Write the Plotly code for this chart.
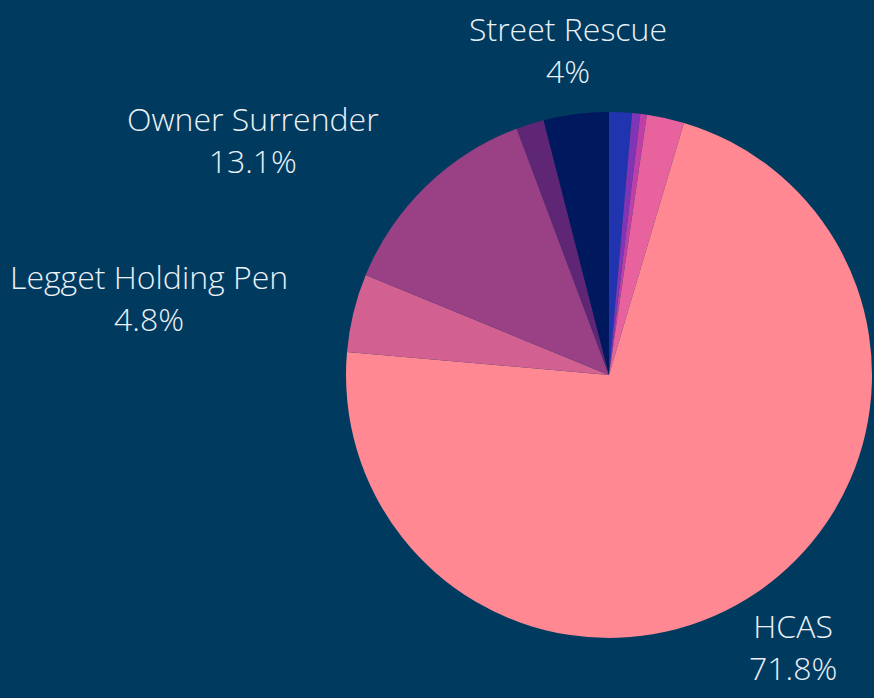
import math
import plotly.graph_objects as go

labels = ["Transfer A", "Transfer B", "Transfer C", "Transfer D", "HCAS",
          "Legget Holding Pen", "Owner Surrender", "Return", "Street Rescue"]
values = [14, 5, 4, 23, 718, 48, 131, 17, 40]
colors = ["#2034B0", "#7F35B5", "#BF3FA8", "#E8639E", "#FF8893",
          "#D26090", "#9A4085", "#5E2675", "#00185E"]
show_label = [False, False, False, False, True, True, True, False, True]

fig = go.Figure(go.Pie(
    labels=labels,
    values=values,
    sort=False,
    direction="clockwise",
    rotation=0,
    marker=dict(colors=colors, line=dict(width=0)),
    textinfo="none",
    showlegend=False,
    hoverinfo="none",
    domain=dict(x=[0, 1], y=[0, 1]),
))

# Outside labels placed along each slice's mid-angle (pie centre 0.5,0.5, radius 0.5 in paper units)
total = sum(values)
label_r = 0.624
cum = 0.0
for lab, v, show in zip(labels, values, show_label):
    mid = (cum + v / 2) / total * 2 * math.pi
    cum += v
    if not show:
        continue
    dx, dy = math.sin(mid), math.cos(mid)
    if dx < -0.6:
        xa = "right"
    elif dx > 0.6:
        xa = "left"
    else:
        xa = "center"
    pct = f"{v / total * 100:.3g}%"
    fig.add_annotation(
        x=0.5 + label_r * dx, y=0.5 + label_r * dy,
        xref="paper", yref="paper",
        text=f"{lab}<br>{pct}",
        showarrow=False, xanchor=xa, yanchor="middle", align="center",
        font=dict(family="Open Sans", size=32, color="#EAF0F6", weight=300),
    )

fig.update_layout(
    width=874, height=698,
    paper_bgcolor="#003B5F",
    plot_bgcolor="#003B5F",
    margin=dict(l=346, r=2, t=112, b=60),
)

fig.write_html("out.html", config={"displayModeBar": False},
               post_script="document.body.style.margin='0';")
